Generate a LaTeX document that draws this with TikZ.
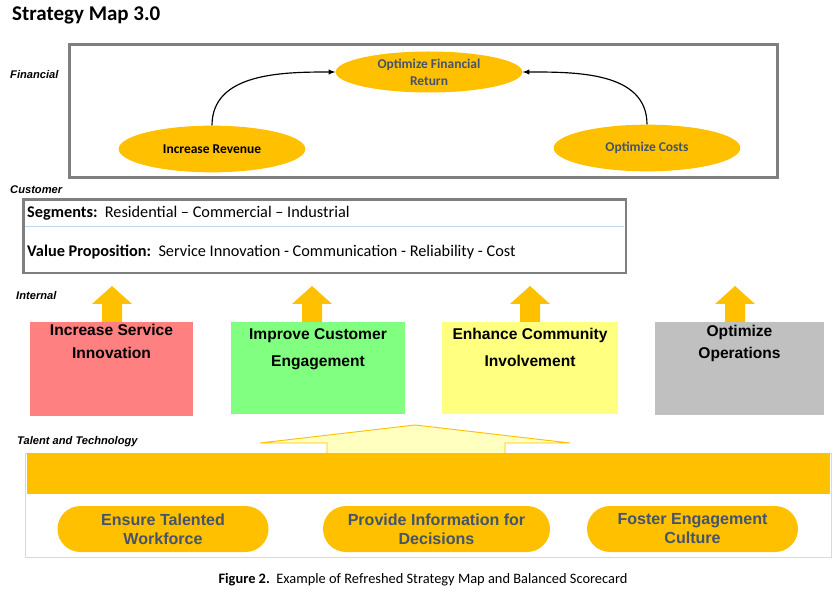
\documentclass[tikz,border=0pt]{standalone}
\usepackage{fontspec}
\usepackage{tikz}
\usetikzlibrary{shapes, arrows, calc, positioning}
\newfontfamily\calfont{Carlito}
\newfontfamily\arialfont{Liberation Sans}
\definecolor{gold}{HTML}{FFC000}
\definecolor{slate}{HTML}{44546A}
\definecolor{frame}{HTML}{7F7F7F}
\definecolor{paleyellow}{HTML}{FFFFC0}
\definecolor{sepblue}{HTML}{BDD7EE}
\definecolor{boxred}{HTML}{FF8080}
\definecolor{boxgreen}{HTML}{80FF80}
\definecolor{boxyellow}{HTML}{FFFF80}
\definecolor{boxgrey}{HTML}{C0C0C0}
\tikzstyle{perspective} = [anchor=west, inner sep=0, font=\arialfont\bfseries\itshape\fontsize{9.5}{11}\selectfont]
\tikzstyle{finoval} = [ellipse, fill=gold, minimum width=5.6cm, minimum height=1.4cm, inner sep=0, align=center, font=\calfont\bfseries\fontsize{11.5}{14.5}\selectfont]
\tikzstyle{intbox} = [rectangle, inner sep=0]
\tikzstyle{inttext} = [align=center, inner sep=0, font=\arialfont\bfseries\fontsize{13.3}{19.6}\selectfont]
\tikzstyle{pill} = [rounded rectangle, fill=gold, minimum width=6.33cm, minimum height=1.38cm, inner sep=0, align=center, text=slate, font=\arialfont\bfseries\fontsize{13.7}{16.2}\selectfont]
\tikzstyle{custext} = [anchor=west, inner sep=0, font=\calfont\fontsize{13.9}{16}\selectfont]

\begin{document}
\begin{tikzpicture}[x=0.03cm, y=-0.03cm, node distance=2cm]
\useasboundingbox (0,0) rectangle (836,596);
\node[anchor=west, inner sep=0, font=\calfont\bfseries\fontsize{17.9}{22}\selectfont] (title) at (12,15) {Strategy Map 3.0};

% Financial
\node[perspective] (lfin) at (10,75) {Financial};
\draw[frame, line width=2.5pt] (69.5,44.5) rectangle (777.5,177.5);
\node[finoval, text=slate, minimum height=1.23cm] (ofr) at (429,72) {Optimize Financial\\Return};
\node[finoval] (irev) at (212,149) {Increase Revenue};
\node[finoval, text=slate] (ocost) at (647,148) {Optimize Costs};
\draw[-latex, line width=1pt] (irev.north) to[out=90, in=180] (ofr.west);
\draw[-latex, line width=1pt] (ocost.north) to[out=90, in=0] (ofr.east);

% Customer
\node[perspective] (lcus) at (10,190) {Customer};
\draw[frame, line width=2.5pt] (23.5,199.5) rectangle (626,273);
\draw[sepblue, line width=0.8pt] (25,226) -- (624,226);
\node[custext] (seg) at (27,213) {\textbf{Segments:}\ \ Residential – Commercial – Industrial};
\node[custext] (valprop) at (27,252) {\textbf{Value Proposition:}\ \ Service Innovation - Communication - Reliability - Cost};

% Internal
\node[perspective] (lint) at (16,296) {Internal};
\foreach \x in {112,312,530,735}
  \fill[gold] (\x-10,322) -- (\x-10,304) -- (\x-20,304) -- (\x,286) -- (\x+20,304) -- (\x+10,304) -- (\x+10,322) -- cycle;
\node[intbox, fill=boxred, minimum width=4.89cm, minimum height=2.82cm] (isi) at (111.5,369) {};
\node[intbox, fill=boxgreen, minimum width=5.22cm, minimum height=2.76cm] (ice) at (318,368) {};
\node[intbox, fill=boxyellow, minimum width=5.28cm, minimum height=2.76cm] (eci) at (530,368) {};
\node[intbox, fill=boxgrey, minimum width=5.07cm, minimum height=2.79cm] (oop) at (739.5,368.5) {};
\node[inttext, below=0.08cm of isi.north] (isitxt) {Increase Service\\Innovation};
\node[inttext, below=0.2cm of ice.north] (icetxt) {Improve Customer\\[3.4pt]Engagement};
\node[inttext, below=0.2cm of eci.north] (ecitxt) {Enhance Community\\[3.4pt]Involvement};
\node[inttext, below=0.1cm of oop.north] (ooptxt) {Optimize\\[-1pt]Operations};

% Talent and Technology
\node[perspective] (ltal) at (17,442) {Talent and Technology};
\draw[black!15] (25,453) rectangle (831,557);
\draw[gold, fill=paleyellow, line width=0.8pt] (327,453) -- (327,443) -- (260,443) -- (415,425) -- (570,443) -- (505,443) -- (505,453);
\fill[gold] (27,453) rectangle (830,494);
\node[pill] (etw) at (163,529) {Ensure Talented\\Workforce};
\node[pill, minimum width=6.81cm] (pid) at (436.5,529) {Provide Information for\\Decisions};
\node[pill] (fec) at (692.5,529) {Foster Engagement\\Culture};

\node[font=\calfont\fontsize{12.3}{14}\selectfont] (caption) at (423,580) {\textbf{Figure 2.}\ \ Example of Refreshed Strategy Map and Balanced Scorecard};
\end{tikzpicture}
\end{document}
